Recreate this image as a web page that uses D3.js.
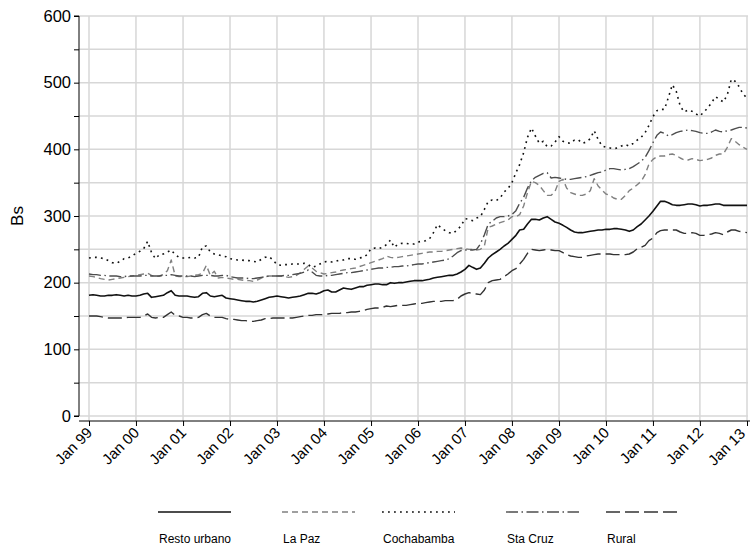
<!DOCTYPE html>
<html>
<head>
<meta charset="utf-8">
<script src="https://cdn.jsdelivr.net/npm/d3@7"></script>
<style>
  body { margin: 0; background: #fff; }
  svg { display: block; font-family: "Liberation Sans", Arial, Helvetica, sans-serif; }
</style>
</head>
<body>
<svg id="chart" width="750" height="547"></svg>
<script>
// Monthly series, Jan 1999 .. Jan 2013 (Bs)
const startYear = 1999;
const tickYears = d3.range(1999, 2014);
const tickLabels = ["Jan 99","Jan 00","Jan 01","Jan 02","Jan 03","Jan 04","Jan 05","Jan 06",
                    "Jan 07","Jan 08","Jan 09","Jan 10","Jan 11","Jan 12","Jan 13"];
const yTicks = [0, 100, 200, 300, 400, 500, 600];
const seriesNames = ["Resto urbano", "La Paz", "Cochabamba", "Sta Cruz", "Rural"];

const restoUrbano = [
  181,182,181,180,180,181,181,182,181,180,181,180,
  180,181,183,184,178,179,180,181,185,188,181,180,
  180,180,179,178,179,184,185,180,179,180,181,177,
  176,175,174,173,172,172,171,172,174,176,178,179,
  180,179,178,177,178,179,180,182,184,184,183,185,
  188,189,186,186,189,192,191,190,192,194,194,196,
  197,198,198,197,197,200,199,200,200,201,202,203,
  203,203,204,205,207,208,209,210,211,211,213,216,
  220,226,223,220,222,229,237,242,246,250,255,259,
  265,271,279,280,288,295,295,294,297,299,295,291,
  289,286,283,279,276,275,275,276,277,278,279,279,
  280,280,281,281,280,279,277,279,284,288,294,300,
  307,315,322,322,320,317,316,316,317,318,318,317,
  315,316,316,317,318,318,316,316,316,316,316,316,
  316
];

const laPaz = [
  210,209,208,206,205,204,205,206,207,208,209,210,
  211,212,213,214,211,209,210,212,218,234,210,209,
  209,209,210,211,212,214,226,211,217,207,208,207,
  206,205,205,204,203,203,202,204,207,209,210,210,
  210,210,209,208,209,211,215,220,225,222,217,215,
  213,214,215,216,218,219,220,221,222,224,226,228,
  230,232,234,236,240,238,237,238,239,240,241,242,
  243,244,245,246,246,247,247,248,249,250,251,252,
  251,250,250,249,250,255,283,285,288,290,292,294,
  299,299,302,315,335,352,350,346,338,331,331,337,
  352,355,342,335,333,331,331,333,338,356,345,339,
  333,331,327,325,325,331,338,342,347,352,362,378,
  385,389,390,390,392,393,391,387,384,384,386,385,
  383,384,385,387,391,393,393,403,416,412,407,403,
  400
];

const cochabamba = [
  237,238,238,237,236,233,230,229,232,236,237,240,
  244,247,251,262,245,236,242,243,246,249,242,238,
  237,237,238,237,238,254,255,246,243,242,240,239,
  236,235,234,234,233,233,232,231,235,238,239,234,
  227,226,227,227,228,228,228,229,227,223,225,228,
  231,232,231,232,234,234,236,236,235,237,238,242,
  251,252,251,253,257,264,253,258,259,259,258,258,
  261,262,263,266,275,287,282,278,275,274,279,285,
  296,295,293,297,299,310,322,324,323,327,336,341,
  350,365,377,395,418,432,420,409,412,404,405,411,
  419,412,410,409,414,414,409,411,416,428,415,405,
  403,402,401,402,405,407,405,409,414,418,425,436,
  449,458,460,460,478,497,487,465,456,459,457,453,
  450,456,462,470,479,475,471,482,505,502,494,483,
  477
];

const staCruz = [
  213,212,212,211,211,210,210,210,209,209,210,210,
  210,210,211,211,210,210,210,211,211,212,211,210,
  210,210,210,209,210,211,211,211,210,210,211,211,
  209,208,207,207,207,206,206,207,208,209,210,210,
  210,210,211,211,212,213,214,216,219,216,211,210,
  210,211,211,212,213,214,215,215,216,217,218,219,
  220,221,222,222,223,223,224,224,225,225,226,227,
  228,228,229,230,231,232,233,234,236,240,245,248,
  249,249,249,250,258,272,288,292,297,299,299,300,
  302,308,319,328,342,353,358,361,364,365,357,358,
  357,356,355,355,356,357,358,359,361,363,365,366,
  369,371,371,370,369,370,371,374,378,382,388,398,
  410,421,426,424,420,422,425,427,428,429,428,427,
  425,424,424,426,429,427,426,428,429,431,433,433,
  432
];

const rural = [
  150,150,150,149,148,147,147,147,147,147,148,148,
  148,148,150,153,148,147,148,148,152,156,151,150,
  148,148,147,147,148,152,154,150,148,148,148,146,
  145,145,144,143,143,142,142,143,144,146,146,147,
  147,147,147,147,147,148,149,150,151,151,152,152,
  152,153,154,154,154,155,155,156,156,157,158,160,
  161,162,162,163,165,164,165,166,166,166,167,168,
  169,169,170,171,172,172,172,173,173,173,175,180,
  183,185,184,183,182,189,200,203,204,205,209,213,
  218,221,228,235,244,250,249,248,249,250,249,248,
  248,245,242,240,239,238,238,240,241,242,243,243,
  243,243,242,242,242,242,243,246,251,253,256,263,
  267,275,278,279,279,279,279,276,274,274,275,274,
  271,271,272,273,275,274,272,276,279,279,277,276,
  275
];

// Line appearance per series
const styles = [
  { color: "#111111", width: 1.6, dash: null },
  { color: "#808080", width: 1.4, dash: "6,4" },
  { color: "#111111", width: 1.6, dash: "1.8,4.2" },
  { color: "#4d4d4d", width: 1.4, dash: "12,3.5,1.5,3.5" },
  { color: "#333333", width: 1.4, dash: "14,5" }
];
const seriesValues = [restoUrbano, laPaz, cochabamba, staCruz, rural];

const months = restoUrbano.map((_, i) => new Date(startYear, i, 1));

const svg = d3.select("#chart");
const plotLeft = 79, plotTop = 16, plotRight = 748, axisY = 421;
const fontStack = '"Liberation Sans", Arial, sans-serif';

const x = d3.scaleTime()
  .domain([new Date(1999, 0, 1), new Date(2013, 0, 1)])
  .range([89, 747]);
const y = d3.scaleLinear().domain([0, 600]).range([416, plotTop]);

const gridColor = "#d7d7d7";

// horizontal grid every 50
svg.append("g").selectAll("line")
  .data(d3.range(0, 601, 50))
  .join("line")
  .attr("x1", plotLeft).attr("x2", plotRight)
  .attr("y1", d => y(d)).attr("y2", d => y(d))
  .attr("stroke", gridColor).attr("stroke-width", 1.5);

// vertical grid at each January
svg.append("g").selectAll("line")
  .data(tickYears)
  .join("line")
  .attr("x1", d => x(new Date(d, 0, 1))).attr("x2", d => x(new Date(d, 0, 1)))
  .attr("y1", plotTop).attr("y2", axisY)
  .attr("stroke", gridColor).attr("stroke-width", 1.5);

// y axis
const yAxis = d3.axisLeft(y)
  .tickValues(d3.range(0, 601, 50))
  .tickSize(5)
  .tickFormat(d => yTicks.includes(d) ? d : "");
const gy = svg.append("g").attr("transform", `translate(${plotLeft},0)`).call(yAxis);
gy.select(".domain").attr("stroke", "#000").attr("d", `M-5,${y(600)}H0V${y(0)}H-5`);
gy.selectAll(".tick line").attr("stroke", "#000");
gy.selectAll(".tick text").attr("font-size", 16.5).attr("fill", "#000").attr("x", -8)
  .attr("font-family", fontStack);

// x axis
const xAxis = d3.axisBottom(x)
  .tickValues(tickYears.map(yv => new Date(yv, 0, 1)))
  .tickSize(5)
  .tickFormat((d, i) => tickLabels[i]);
const gx = svg.append("g").attr("transform", `translate(0,${axisY})`).call(xAxis);
gx.select(".domain").attr("stroke", "#000").attr("d", `M${plotLeft},0H${plotRight + 2}`);
gx.selectAll(".tick line").attr("stroke", "#000");
const lastTick = tickYears.length - 1;
gx.selectAll(".tick text")
  .attr("font-size", 15).attr("fill", "#000")
  .attr("font-family", fontStack)
  .attr("text-anchor", "end")
  .attr("dy", "0.35em")
  .attr("transform", (d, i) => i === lastTick ? "translate(-5,10) rotate(-45)" : "translate(0,9) rotate(-45)")
  .attr("y", 0).attr("x", 0);

// axis title
svg.append("text")
  .attr("transform", "translate(23,216) rotate(-90)")
  .attr("text-anchor", "middle")
  .attr("font-size", 17)
  .attr("font-family", fontStack)
  .text("Bs");

// series lines
const line = d3.line()
  .x((d, i) => x(months[i]))
  .y(d => y(d));

svg.append("g").selectAll("path")
  .data(seriesValues)
  .join("path")
  .attr("fill", "none")
  .attr("d", d => line(d))
  .attr("stroke", (d, i) => styles[i].color)
  .attr("stroke-width", (d, i) => styles[i].width)
  .attr("stroke-dasharray", (d, i) => styles[i].dash)
  .attr("stroke-linejoin", "round");

// legend
const legendX = [158, 282, 382, 506, 606];
const legend = svg.append("g").selectAll("g")
  .data(seriesNames)
  .join("g")
  .attr("transform", (d, i) => `translate(${legendX[i]},0)`);
legend.append("line")
  .attr("x1", 0).attr("x2", 73).attr("y1", 512).attr("y2", 512)
  .attr("stroke", (d, i) => styles[i].color)
  .attr("stroke-width", (d, i) => styles[i].width)
  .attr("stroke-dasharray", (d, i) => styles[i].dash);
legend.append("text")
  .attr("x", 1).attr("y", 543)
  .attr("font-size", 12)
  .attr("font-family", fontStack)
  .text(d => d);
</script>
</body>
</html>
